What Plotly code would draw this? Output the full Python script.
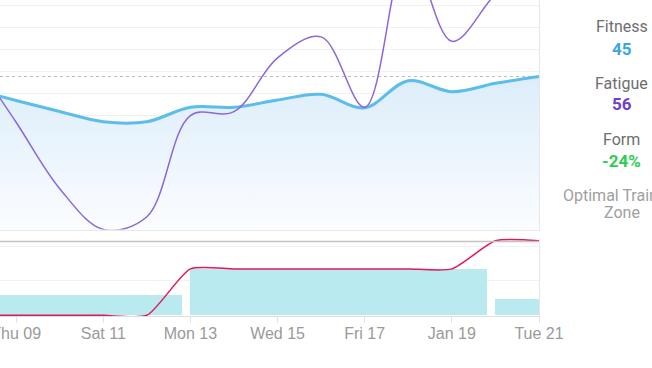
import plotly.graph_objects as go

# ---- data ----
dates = ["2020-01-08", "2020-01-09", "2020-01-10", "2020-01-11", "2020-01-12",
         "2020-01-13", "2020-01-14", "2020-01-15", "2020-01-16", "2020-01-17",
         "2020-01-18", "2020-01-19", "2020-01-20", "2020-01-21"]
fitness = [43.86, 42.82, 41.82, 40.89, 40.89, 42.2, 42.2, 42.86, 43.38, 42.16,
           44.62, 43.62, 44.38, 45.0]
fatigue = [46.7, 40.84, 34.8, 31.1, 32.25, 41.45, 41.8, 46.7, 48.6, 42.2,
           56.5, 48.2, 52.5, 56.0]
target = [0, 0, 0, 0, 0, 13.5, 13.5, 13.5, 13.5, 13.5, 13.5, 13.5, 21.7, 21.7]

weeks = ["2020-01-06", "2020-01-13", "2020-01-20"]
weekly_load = [5.97, 13.46, 4.81]

tick_vals = ["2020-01-09", "2020-01-11", "2020-01-13", "2020-01-15",
             "2020-01-17", "2020-01-19", "2020-01-21"]
tick_text = ["Thu 09", "Sat 11", "Mon 13", "Wed 15", "Fri 17", "Jan 19", "Tue 21"]

summary_labels = ["Fitness", "Fatigue", "Form"]
summary_values = ["45", "56", "-24%"]
summary_colors = ["#37a8e0", "#6a3fd0", "#2ecc55"]
current_fitness = 45

# ---- figure ----
W, H = 652, 368
ML, MR, MT, MB = 0, 113, 0, 52
PW, PH = W - ML - MR, H - MT - MB


def py(pix):  # pixel y -> paper y
    return (PH - pix) / PH


def px(pix):
    return pix / PW


DAY = 86400000
fig = go.Figure()

fig.add_trace(go.Scatter(
    x=dates, y=fitness, mode="lines", xaxis="x", yaxis="y",
    line=dict(color="#5bbde9", width=3, shape="spline", smoothing=1),
    fill="tozeroy",
    fillgradient=dict(type="vertical", start=31.09, stop=45,
                      colorscale=[[0, "#fbfdff"], [1, "#dcedfa"]]),
    hoverinfo="skip"))
fig.add_trace(go.Scatter(
    x=dates, y=fatigue, mode="lines", xaxis="x", yaxis="y",
    line=dict(color="#8b66dc", width=1.5, shape="spline", smoothing=1),
    hoverinfo="skip"))

fig.add_trace(go.Bar(
    x=weeks, y=weekly_load, xaxis="x2", yaxis="y2",
    width=[6.8 * DAY] * len(weeks), offset=0,
    marker=dict(color="#b9eaef", line=dict(width=0)),
    hoverinfo="skip"))
fig.add_trace(go.Scatter(
    x=dates, y=target, mode="lines", xaxis="x2", yaxis="y2",
    line=dict(color="#e0185a", width=1.5, shape="spline", smoothing=0.6),
    hoverinfo="skip"))

x_range = ["2020-01-08 15:07", "2020-01-21 00:00"]

fig.update_layout(
    width=W, height=H,
    margin=dict(l=ML, r=MR, t=MT, b=MB, autoexpand=False),
    paper_bgcolor="white", plot_bgcolor="white",
    showlegend=False, bargap=0,
    xaxis=dict(domain=[0, 1], anchor="y", type="date", range=x_range,
               showticklabels=False, showgrid=False, zeroline=False,
               automargin=False,
               showline=True, linecolor="#e8e8e8", linewidth=1, ticks=""),
    xaxis2=dict(domain=[0, 1], anchor="y2", type="date", range=x_range,
                matches="x", tickvals=tick_vals, ticktext=tick_text,
                ticks="outside", ticklen=6, tickcolor="#e3e3e3", tickwidth=1,
                ticklabeloverflow="allow", automargin=False,
                ticklabelstandoff=-3,
                showline=True, linecolor="#dedede", linewidth=1,
                showgrid=False, zeroline=False,
                tickfont=dict(family="Liberation Sans, Arial", size=16, color="#9a9a9a")),
    yaxis=dict(domain=[py(229.5), 1], range=[31.09, 51.955],
               tick0=31.436, dtick=2, showgrid=True, gridcolor="#f1f1f1",
               showticklabels=False, zeroline=False, side="right", automargin=False,
               showline=True, linecolor="#e6e6e6", ticks=""),
    yaxis2=dict(domain=[0, py(238)], range=[-0.2, 22.48], tick0=0, dtick=10,
                showgrid=True, gridcolor="#f1f1f1", automargin=False,
                showticklabels=False, zeroline=False, side="right",
                showline=True, linecolor="#e6e6e6", ticks=""),
)

fig.add_shape(type="line", xref="paper", x0=0, x1=1, yref="y",
              y0=current_fitness, y1=current_fitness,
              line=dict(color="#bdbdbd", width=1, dash="3px,3px"), layer="below")
fig.add_shape(type="line", xref="paper", x0=0, x1=1, yref="paper",
              y0=py(241.5), y1=py(241.5),
              line=dict(color="#c2c2c2", width=1.5))

cx = px(621.7)
label_y = [26.5, 83.3, 139.5]
value_y = [48.8, 103.8, 161.3]
for lab, val, col, ly, vy in zip(summary_labels, summary_values, summary_colors, label_y, value_y):
    fig.add_annotation(x=cx, y=py(ly), xref="paper", yref="paper", text=lab,
                       showarrow=False, xanchor="center", yanchor="middle",
                       font=dict(family="Roboto", size=16, color="#6e6e6e"))
    fig.add_annotation(x=cx, y=py(vy), xref="paper", yref="paper", text=val,
                       showarrow=False, xanchor="center", yanchor="middle",
                       font=dict(family="Roboto", size=17, color=col, weight="bold"))
fig.add_annotation(x=cx, y=py(195.3), xref="paper", yref="paper", text="Optimal Training",
                   showarrow=False, xanchor="center", yanchor="middle",
                   font=dict(family="Roboto", size=16, color="#a0a0a0"))
fig.add_annotation(x=cx, y=py(212.5), xref="paper", yref="paper", text="Zone",
                   showarrow=False, xanchor="center", yanchor="middle",
                   font=dict(family="Roboto", size=16, color="#a0a0a0"))

fig.write_html("out.html", config={"displayModeBar": False},
               post_script="document.body.style.margin='0px';")
